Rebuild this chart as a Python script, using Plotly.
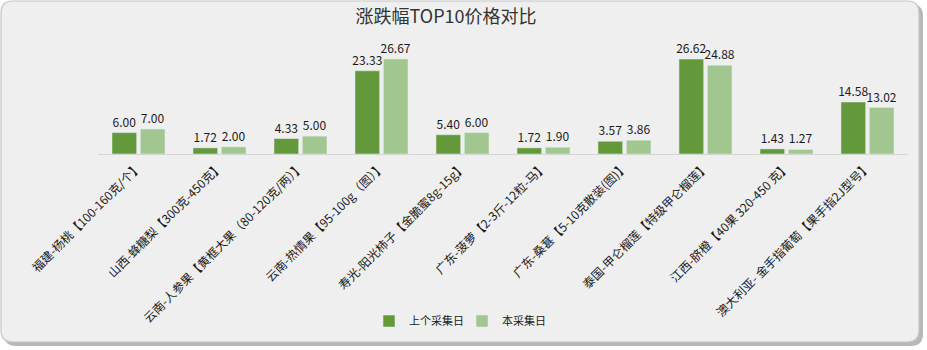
import plotly.graph_objects as go

categories = [
    "福建-杨桃【100-160克/个】",
    "山西-蜂糖梨【300克-450克】",
    "云南-人参果【黄框大果（80-120克/两）】",
    "云南-热情果【95-100g（图）】",
    "寿光-阳光柿子【金脆蜜8g-15g】",
    "广东-菠萝【2-3斤-12粒-马】",
    "广东-桑葚【5-10克散装(图)】",
    "泰国-甲仑榴莲【特级甲仑榴莲】",
    "江西-脐橙【40果 320-450 克】",
    "澳大利亚- 金手指葡萄【果手指2J型号】",
]
prev_values = [6.00, 1.72, 4.33, 23.33, 5.40, 1.72, 3.57, 26.62, 1.43, 14.58]
curr_values = [7.00, 2.00, 5.00, 26.67, 6.00, 1.90, 3.86, 24.88, 1.27, 13.02]
series_names = ["上个采集日", "本采集日"]

W, H = 927, 350
L, R, T, B = 98, 19, 47, 196
pw, ph = W - L - R, H - T - B


def px(x):
    return (x - L) / pw


def py(y):
    return (H - B - y) / ph


def rrect(x0, y0, x1, y1, r):
    pts = [
        f"M {px(x0 + r)} {py(y0)}",
        f"L {px(x1 - r)} {py(y0)}",
        f"Q {px(x1)} {py(y0)} {px(x1)} {py(y0 + r)}",
        f"L {px(x1)} {py(y1 - r)}",
        f"Q {px(x1)} {py(y1)} {px(x1 - r)} {py(y1)}",
        f"L {px(x0 + r)} {py(y1)}",
        f"Q {px(x0)} {py(y1)} {px(x0)} {py(y1 - r)}",
        f"L {px(x0)} {py(y0 + r)}",
        f"Q {px(x0)} {py(y0)} {px(x0 + r)} {py(y0)}",
        "Z",
    ]
    return " ".join(pts)


font_family = "Noto Sans CJK SC, Noto Sans, sans-serif"

fig = go.Figure()
fig.add_trace(go.Bar(
    x=categories, y=prev_values, name=series_names[0],
    marker_color="#64993b",
    texttemplate="%{y:.2f}", textposition="outside", constraintext="none",
    textfont=dict(size=12, color="#1a1a1a"), cliponaxis=False,
))
fig.add_trace(go.Bar(
    x=categories, y=curr_values, name=series_names[1],
    marker_color="#a2c68f",
    texttemplate="%{y:.2f}", textposition="outside", constraintext="none",
    textfont=dict(size=12, color="#1a1a1a"), cliponaxis=False,
))

shapes = [
    dict(type="path", xref="paper", yref="paper", layer="below",
         path=rrect(4, 4, 923, 346, 12), fillcolor="#b8b8b8", line=dict(width=0)),
    dict(type="path", xref="paper", yref="paper", layer="below",
         path=rrect(1, 1, 919, 342, 12), fillcolor="#efefef",
         line=dict(color="#c4c4c4", width=1.2)),
]

fig.update_layout(
    width=W, height=H,
    margin=dict(l=L, r=R, t=T, b=B, autoexpand=False),
    paper_bgcolor="white", plot_bgcolor="rgba(0,0,0,0)",
    font=dict(family=font_family, size=12, color="#1a1a1a"),
    title=dict(text="涨跌幅TOP10价格对比", x=446 / W, xanchor="center",
               y=1 - 17 / H, yanchor="middle",
               font=dict(size=18, color="#333333")),
    barmode="group", bargap=0.3, bargroupgap=0.13,
    xaxis=dict(showline=True, linecolor="#d4d4d4", linewidth=1,
               tickangle=-45, ticks="", automargin=False,
               tickfont=dict(size=12, color="#1a1a1a"), showgrid=False),
    yaxis=dict(range=[0, 30], visible=False, showgrid=False, automargin=False),
    legend=dict(orientation="h", x=px(462), xanchor="center",
                y=py(321), yanchor="middle", font=dict(size=11),
                bgcolor="rgba(0,0,0,0)", itemwidth=30,
                entrywidth=48, entrywidthmode="pixels"),
    shapes=shapes,
    showlegend=True,
)

fig.write_html("out.html")
